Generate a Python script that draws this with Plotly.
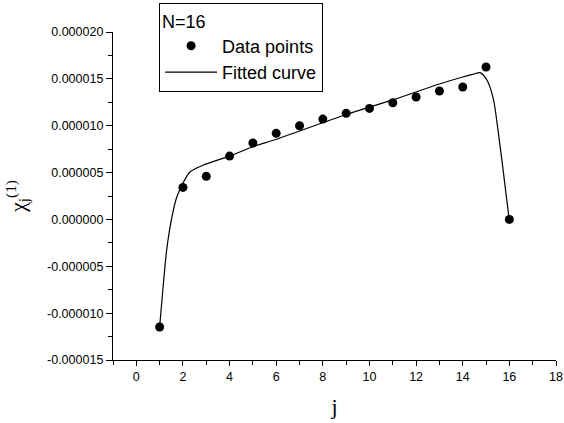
import plotly.graph_objects as go

# Data points
j_points = [1, 2, 3, 4, 5, 6, 7, 8, 9, 10, 11, 12, 13, 14, 15, 16]
chi_points = [-11.48e-6, 3.42e-6, 4.60e-6, 6.76e-6, 8.15e-6, 9.19e-6, 10.0e-6, 10.71e-6,
              11.32e-6, 11.85e-6, 12.45e-6, 13.06e-6, 13.70e-6, 14.13e-6, 16.26e-6, 0.0]

# Fitted curve
curve_j = [1.0, 1.1, 1.3, 1.53, 1.74, 2.03, 2.31, 2.88, 4.0, 5.0, 6.0, 9.0, 11.0, 13.0,
           14.0, 14.46, 14.74, 15.03, 15.31, 15.53, 15.74, 15.96, 16.0]
curve_chi = [-11.45e-6, -8.6e-6, -3.3e-6, 0.3e-6, 2.42e-6, 4.02e-6, 5.09e-6, 5.80e-6,
             6.76e-6, 7.76e-6, 8.55e-6, 11.2e-6, 12.75e-6, 14.45e-6, 15.2e-6, 15.5e-6,
             15.66e-6, 14.9e-6, 12.9e-6, 9.19e-6, 5.1e-6, 0.65e-6, 0.0]

y_tickvals = [-15e-6, -10e-6, -5e-6, 0, 5e-6, 10e-6, 15e-6, 20e-6]
y_ticktext = ["-0.000015", "-0.000010", "-0.000005", "0.000000",
              "0.000005", "0.000010", "0.000015", "0.000020"]

fig = go.Figure()
fig.add_trace(go.Scatter(
    x=j_points, y=chi_points, mode="markers", name="Data points",
    marker=dict(color="black", size=9, symbol="circle"),
))
fig.add_trace(go.Scatter(
    x=curve_j, y=curve_chi, mode="lines", name="Fitted curve",
    line=dict(color="black", width=1.2, shape="spline", smoothing=0.8),
))

sans = "Liberation Sans, Arial, sans-serif"
serif = "Liberation Serif, Times New Roman, serif"
axis_font = dict(family=sans, size=12.5, color="black")

fig.update_layout(
    width=564, height=423,
    margin=dict(l=113, r=8, t=32, b=63, autoexpand=False),
    plot_bgcolor="white", paper_bgcolor="white",
    showlegend=True,
    legend=dict(
        x=0.104, y=1.088, xanchor="left", yanchor="top",
        bordercolor="black", borderwidth=1, bgcolor="white",
        font=dict(family=sans, size=18, color="black"),
        title=dict(text="N=16", font=dict(family=sans, size=18, color="black")),
        itemwidth=52, tracegroupgap=0,
    ),
    xaxis=dict(
        range=[-1, 18], showgrid=False, zeroline=False, automargin=False,
        showline=True, linecolor="black", linewidth=1.3,
        tickmode="linear", tick0=0, dtick=2,
        ticks="outside", ticklen=5, tickwidth=1.2, tickcolor="black",
        tickfont=axis_font, ticklabeloverflow="allow",
        minor=dict(tickmode="linear", tick0=0, dtick=1, ticks="outside", ticklen=4,
                   tickwidth=1.2, tickcolor="black", showgrid=False),
        title=dict(text="j", font=dict(family=serif, size=22, color="black")),
    ),
    yaxis=dict(
        range=[-15e-6, 20e-6], showgrid=False, zeroline=False, automargin=False,
        showline=True, linecolor="black", linewidth=1.3,
        tickmode="array", tickvals=y_tickvals, ticktext=y_ticktext,
        ticks="outside", ticklen=6, tickwidth=1.2, tickcolor="black",
        tickfont=axis_font, ticklabeloverflow="allow",
        minor=dict(tickmode="linear", tick0=0, dtick=2.5e-6, ticks="outside", ticklen=4,
                   tickwidth=1.2, tickcolor="black", showgrid=False),
        title=dict(text="χ<sub>j</sub><sup>(1)</sup>",
                   font=dict(family=serif, size=22, color="black")),
    ),
)

# Remove the browser's default 8px page margin so the figure fills the window exactly.
fig.write_html("out.html", config={"displayModeBar": False},
               post_script="document.body.style.margin='0px';")
